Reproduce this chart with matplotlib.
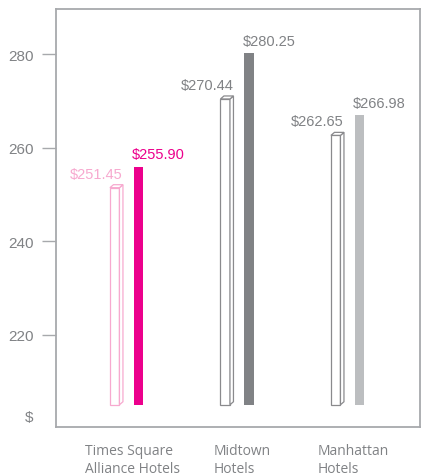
import matplotlib
matplotlib.use("Agg")
import matplotlib.pyplot as plt
from matplotlib.patches import Polygon
from matplotlib.transforms import offset_copy

categories = ["Times Square\nAlliance Hotels", "Midtown\nHotels", "Manhattan\nHotels"]
prev_values = [251.45, 270.44, 262.65]
curr_values = [255.90, 280.25, 266.98]
prev_colors = ["#f7a9cf", "#8a8a8d", "#8a8a8d"]
curr_colors = ["#ec008c", "#808285", "#bcbec0"]
label_prev_colors = ["#f7a9cf", "#808285", "#808285"]
label_curr_colors = ["#ec008c", "#808285", "#808285"]
ytick_vals = [202.6, 220, 240, 260, 280]
ytick_labels = ["$", "220", "240", "260", "280"]
baseline = 205

W, H = 421, 477
fig = plt.figure(figsize=(W / 100, H / 100), dpi=100)
ax = fig.add_axes([56 / W, 1 - 427.7 / H, (420 - 56) / W, (427.7 - 9.5) / H])

xlim = (-0.638, 2.656)
ylim = (200.3, 289.8)
ax.set_xlim(*xlim)
ax.set_ylim(*ylim)

ax_w_px = 420 - 56
ax_h_px = 427.7 - 9.5
px_x = (xlim[1] - xlim[0]) / ax_w_px
px_y = (ylim[1] - ylim[0]) / ax_h_px

bw = 9.5 * px_x
off = 11.8 * px_x
dx = 3.5 * px_x
dy = 3.0 * px_y

text_gray = "#808285"

for i, (pv, cv) in enumerate(zip(prev_values, curr_values)):
    xp = i - off
    xc = i + off
    ec = prev_colors[i]
    ax.bar(xp, pv - baseline, bottom=baseline, width=bw, facecolor="white",
           edgecolor=ec, linewidth=0.9, zorder=3)
    l, r = xp - bw / 2, xp + bw / 2
    side = Polygon([(r, baseline), (r + dx, baseline + dy), (r + dx, pv + dy), (r, pv)],
                   closed=True, facecolor="white", edgecolor=ec, linewidth=0.9, zorder=3)
    top = Polygon([(l, pv), (l + dx, pv + dy), (r + dx, pv + dy), (r, pv)],
                  closed=True, facecolor="white", edgecolor=ec, linewidth=0.9, zorder=3)
    ax.add_patch(side)
    ax.add_patch(top)
    ax.bar(xc, cv - baseline, bottom=baseline, width=bw, facecolor=curr_colors[i],
           edgecolor="none", zorder=3)
    ax.annotate(f"${pv:.2f}", (r + dx, pv + dy), xytext=(0, 3), textcoords="offset points",
                ha="right", va="bottom", color=label_prev_colors[i], fontsize=10.5,
                family="Liberation Sans")
    ax.annotate(f"${cv:.2f}", (xc - bw / 2, cv), xytext=(-1, 4), textcoords="offset points",
                ha="left", va="bottom", color=label_curr_colors[i], fontsize=10.5,
                family="Liberation Sans")

frame_c = "#a7a9ac"
for s in ax.spines.values():
    s.set_color(frame_c)
    s.set_linewidth(1.3)

ax.set_yticks(ytick_vals)
ax.set_yticklabels(ytick_labels, family="Liberation Sans", fontsize=11, color=text_gray)
ax.tick_params(axis="y", length=10, width=1, color=frame_c, pad=6)
ax.yaxis.get_major_ticks()[0].tick1line.set_visible(False)

ax.set_xticks([])
lab_tr = offset_copy(ax.get_xaxis_transform(), fig=fig, x=0, y=-32.5, units="dots")
for i, c in enumerate(categories):
    ax.text(i + 0.05, 0, c, transform=lab_tr, ha="center", va="center",
            multialignment="left", color=text_gray, fontsize=10, family="Open Sans",
            linespacing=1.28)

fig.savefig("out.png", dpi=100)
